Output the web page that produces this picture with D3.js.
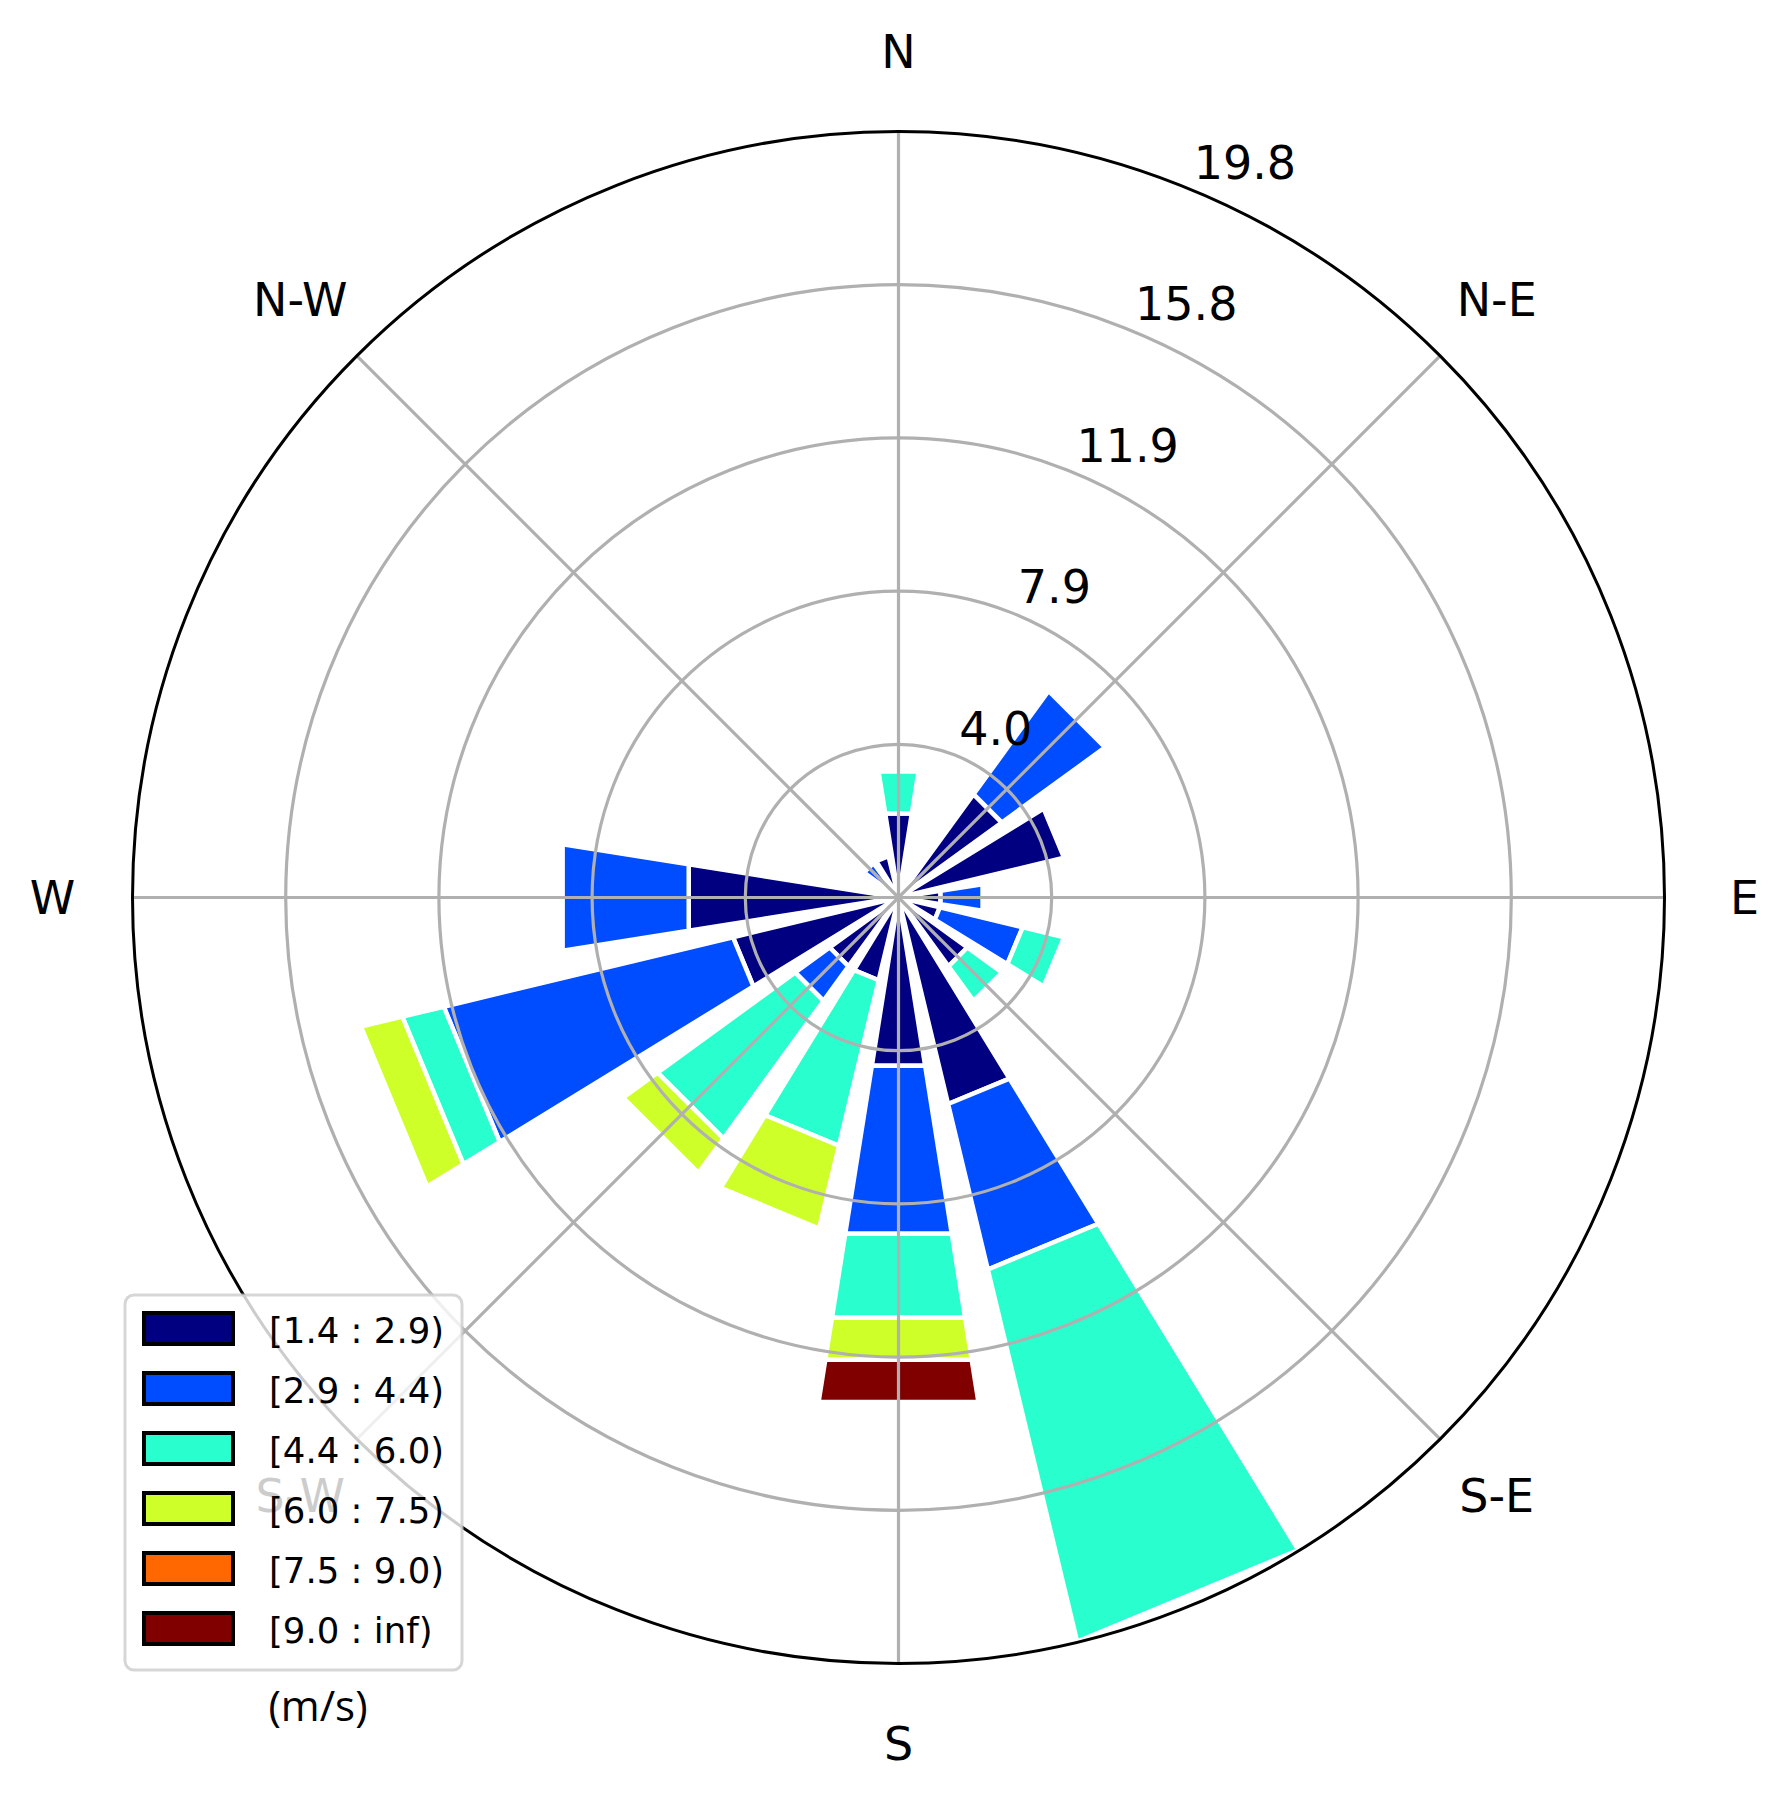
<!DOCTYPE html>
<html>
<head>
<meta charset="utf-8">
<script src="https://cdn.jsdelivr.net/npm/d3@7"></script>
<style>
body { margin: 0; background: #fff; }
text { font-family: "DejaVu Sans", sans-serif; fill: #000; }
</style>
</head>
<body>
<div id="rose"></div>
<script>
// frequency (%) per direction, one array per wind speed bin
var directions = ["N", "NNE", "NE", "ENE", "E", "ESE", "SE", "SSE", "S", "SSW", "SW", "WSW", "W", "WNW", "NW", "NNW"]
var bin1 = [2.2, 0, 3.3, 4.4, 1.1, 1.1, 2.2, 5.49, 4.4, 2.2, 2.2, 4.4, 5.49, 0, 0, 1.1]
var bin2 = [0, 0, 3.3, 0, 1.1, 2.2, 0, 4.4, 4.4, 0, 1.1, 7.69, 3.3, 0, 1.1, 0]
var bin3 = [1.1, 0, 0, 0, 0, 1.1, 1.1, 9.89, 2.2, 4.4, 4.4, 1.1, 0, 0, 0, 0]
var bin4 = [0, 0, 0, 0, 0, 0, 0, 0, 1.1, 2.2, 1.1, 1.1, 0, 0, 0, 0]
var bin5 = [0, 0, 0, 0, 0, 0, 0, 0, 0, 0, 0, 0, 0, 0, 0, 0]
var bin6 = [0, 0, 0, 0, 0, 0, 0, 0, 1.1, 0, 0, 0, 0, 0, 0, 0]
var binLabels = ["[1.4 : 2.9)", "[2.9 : 4.4)", "[4.4 : 6.0)", "[6.0 : 7.5)", "[7.5 : 9.0)", "[9.0 : inf)"]
var binColors = ["#000080", "#004cff", "#29ffce", "#ceff29", "#ff6800", "#800000"]
var compass = ["N", "N-E", "E", "S-E", "S", "S-W", "W", "N-W"]
var rTicks = [3.96, 7.92, 11.88, 15.84, 19.8]
var rTickLabels = ["4.0", "7.9", "11.9", "15.8", "19.8"]

const W = 1789, H = 1796
const cx = 898.5, cy = 897.5, R = 766

var bins = [bin1, bin2, bin3, bin4, bin5, bin6]
var keys = bins.map((b, i) => "b" + i)
var rows = directions.map((d, i) => {
    var row = {dir: d}
    bins.forEach((b, j) => row["b" + j] = b[i])
    return row
})
var series = d3.stack().keys(keys)(rows)

var svg = d3.select("#rose")
    .append("svg")
    .attr("width", W)
    .attr("height", H)
svg.append("rect").attr("width", W).attr("height", H).attr("fill", "#fff")

var g = svg.append("g")
    .attr("transform", `translate(${cx}, ${cy})`)

var r = d3.scaleLinear().domain([0, 19.8]).range([0, R])
var a = d3.scaleBand().domain(directions).range([0, 2 * Math.PI])
var half = a.bandwidth() * 0.4

function wedge(dir, r0, r1) {
    var t = a(dir)
    var pts = [
        d3.pointRadial(t - half, r(r0)),
        d3.pointRadial(t - half, r(r1)),
        d3.pointRadial(t + half, r(r1)),
        d3.pointRadial(t + half, r(r0))
    ]
    return "M" + pts.map(p => p.join(",")).join("L") + "Z"
}

// bars, inner bins first
series.forEach((s, i) => {
    g.append("g")
        .selectAll("path")
        .data(s.filter(d => d[1] - d[0] > 0))
        .join("path")
        .attr("d", d => wedge(d.data.dir, d[0], d[1]))
        .attr("fill", binColors[i])
        .attr("stroke", "#fff")
        .attr("stroke-width", 4.5)
})

// grid on top of bars
var grid = g.append("g")
    .attr("fill", "none")
    .attr("stroke", "#b0b0b0")
    .attr("stroke-width", 3.2)
grid.selectAll("circle")
    .data(rTicks.slice(0, -1))
    .join("circle")
    .attr("r", d => r(d))
grid.selectAll("line")
    .data(compass)
    .join("line")
    .attr("x2", (d, i) => d3.pointRadial(i * Math.PI / 4, R)[0])
    .attr("y2", (d, i) => d3.pointRadial(i * Math.PI / 4, R)[1])

g.append("circle")
    .attr("r", R)
    .attr("fill", "none")
    .attr("stroke", "#000")
    .attr("stroke-width", 3)

// radial tick labels along 22.5 deg
g.append("g")
    .selectAll("text")
    .data(rTicks)
    .join("text")
    .attr("x", d => d3.pointRadial(Math.PI / 8, r(d))[0] + 2)
    .attr("y", d => d3.pointRadial(Math.PI / 8, r(d))[1] - 11)
    .attr("font-size", 46)
    .text((d, i) => rTickLabels[i])

// compass labels
g.append("g")
    .selectAll("text")
    .data(compass)
    .join("text")
    .attr("x", (d, i) => d3.pointRadial(i * Math.PI / 4, 846)[0])
    .attr("y", (d, i) => d3.pointRadial(i * Math.PI / 4, 846)[1])
    .attr("dy", "0.36em")
    .attr("text-anchor", "middle")
    .attr("font-size", 46)
    .text(d => d)

// legend (semi-transparent, drawn over the S-W label like the original)
var leg = svg.append("g")
leg.append("rect")
    .attr("x", 125).attr("y", 1295)
    .attr("width", 337).attr("height", 375)
    .attr("rx", 9)
    .attr("fill", "#fff").attr("fill-opacity", 0.8)
    .attr("stroke", "#cccccc").attr("stroke-opacity", 0.8)
    .attr("stroke-width", 3)
var item = leg.selectAll("g.item")
    .data(binLabels)
    .join("g")
    .attr("class", "item")
    .attr("transform", (d, i) => `translate(0, ${i * 60})`)
item.append("rect")
    .attr("x", 144).attr("y", 1313)
    .attr("width", 89).attr("height", 31)
    .attr("fill", (d, i) => binColors[i])
    .attr("stroke", "#000")
    .attr("stroke-width", 4)
item.append("text")
    .attr("x", 269).attr("y", 1343)
    .attr("font-size", 35.5)
    .text(d => d)

svg.append("text")
    .attr("x", 318).attr("y", 1721)
    .attr("text-anchor", "middle")
    .attr("font-size", 42)
    .style("font-family", "'Open Sans', sans-serif")
    .text("(m/s)")
</script>
</body>
</html>
